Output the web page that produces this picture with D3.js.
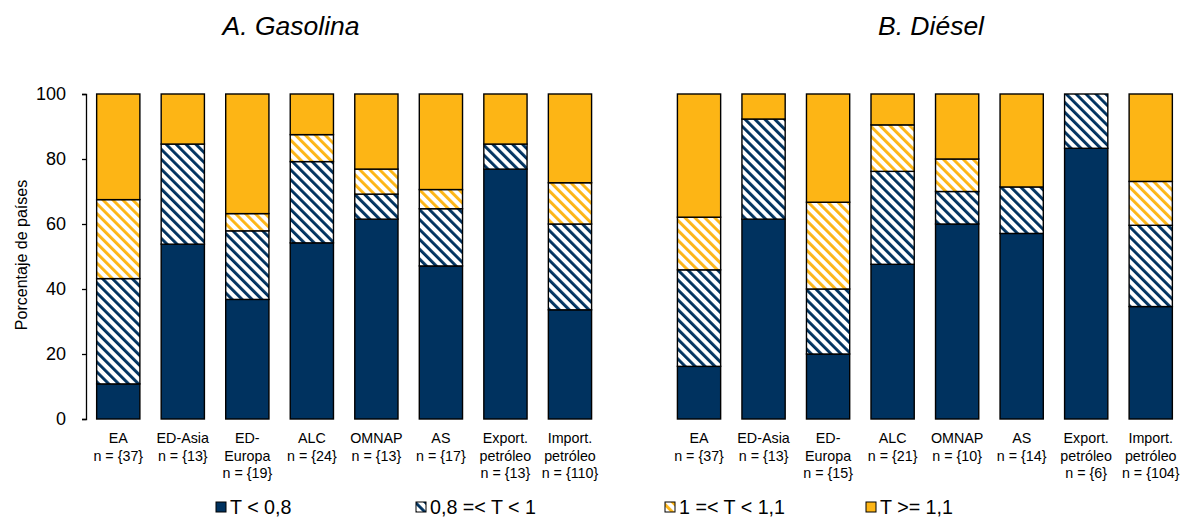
<!DOCTYPE html>
<html>
<head>
<meta charset="utf-8">
<script src="https://cdn.jsdelivr.net/npm/d3@7"></script>
<style>
  html,body{margin:0;padding:0;background:#fff;}
  svg{display:block;font-family:Arial,"Liberation Sans",sans-serif;}
</style>
</head>
<body>
<svg id="chart" width="1183" height="517"></svg>
<script>
// categories (one gap slot between the two panels)
const groups = ['EA','ED-Asia','ED-Europa','ALC','OMNAP','AS','Export.','Import.'];
const labelsA = [['EA','n = {37}'],['ED-Asia','n = {13}'],['ED-','Europa','n = {19}'],['ALC','n = {24}'],['OMNAP','n = {13}'],['AS','n = {17}'],['Export.','petróleo','n = {13}'],['Import.','petróleo','n = {110}']];
const labelsB = [['EA','n = {37}'],['ED-Asia','n = {13}'],['ED-','Europa','n = {15}'],['ALC','n = {21}'],['OMNAP','n = {10}'],['AS','n = {14}'],['Export.','petróleo','n = {6}'],['Import.','petróleo','n = {104}']];
const seriesNames = ['T < 0,8','0,8 =< T < 1','1 =< T < 1,1','T >= 1,1'];

// porcentaje de países por tramo (A. Gasolina)
const gasLow  = [10.8, 53.8, 36.8, 54.2, 61.5, 47.1, 76.9, 33.6];
const gasMid  = [32.4, 30.8, 21.1, 25.0,  7.7, 17.6,  7.7, 26.4];
const gasHigh = [24.3,  0.0,  5.3,  8.3,  7.7,  5.9,  0.0, 12.7];
const gasTop  = [32.5, 15.4, 36.8, 12.5, 23.1, 29.4, 15.4, 27.3];
// (B. Diésel)
const dieLow  = [16.2, 61.5, 20.0, 47.6, 60.0, 57.1, 83.3, 34.6];
const dieMid  = [29.7, 30.8, 20.0, 28.6, 10.0, 14.3, 16.7, 25.0];
const dieHigh = [16.2,  0.0, 26.7, 14.3, 10.0,  0.0,  0.0, 13.5];
const dieTop  = [37.9,  7.7, 33.3,  9.5, 20.0, 28.6,  0.0, 26.9];

const yTicks = [0,20,40,60,80,100];

const NAVY='#00325f', GOLD='#fdb515';

const rows=[];
groups.forEach((g,i)=>rows.push({key:'A'+i, lab:labelsA[i], v:[gasLow[i],gasMid[i],gasHigh[i],gasTop[i]]}));
const gapKey='gap';
groups.forEach((g,i)=>rows.push({key:'B'+i, lab:labelsB[i], v:[dieLow[i],dieMid[i],dieHigh[i],dieTop[i]]}));
const domain=[...rows.slice(0,8).map(r=>r.key), gapKey, ...rows.slice(8).map(r=>r.key)];

const svg=d3.select('#chart');
const x=d3.scaleBand().domain(domain).range([86,1183]).paddingInner(0.33).paddingOuter(0.165);
const y=d3.scaleLinear().domain([0,100]).range([419,94]);

// hatch patterns
const defs=svg.append('defs');
function hatch(id,color){
  const p=defs.append('pattern').attr('id',id).attr('patternUnits','userSpaceOnUse')
    .attr('width',7).attr('height',7).attr('patternTransform','rotate(-45)');
  p.append('rect').attr('width',7).attr('height',7).attr('fill','#fff');
  p.append('rect').attr('x',0).attr('width',2.9).attr('height',7).attr('fill',color);
}
hatch('hNavy',NAVY); hatch('hGold',GOLD);
const fills=[NAVY,'url(#hNavy)','url(#hGold)',GOLD];

// titles
svg.append('text').attr('x',291).attr('y',35).attr('text-anchor','middle')
  .attr('font-size',26.5).attr('font-style','italic').text('A. Gasolina');
svg.append('text').attr('x',931).attr('y',35).attr('text-anchor','middle')
  .attr('font-size',26.5).attr('font-style','italic').text('B. Diésel');

// y axis
const yAxis=svg.append('g').attr('transform','translate(86,0)')
  .call(d3.axisLeft(y).tickValues(yTicks).tickSize(4).tickPadding(16));
yAxis.select('.domain').attr('stroke','#000').attr('stroke-width',1.3).attr('d','M-4,94.5H0.5V419.5H-4');
yAxis.selectAll('.tick line').attr('stroke','#000').attr('stroke-width',1.3);
yAxis.selectAll('.tick text').attr('font-size',18).attr('fill','#000')
  .attr('font-family','Arial,"Liberation Sans",sans-serif');

svg.append('text').attr('transform','translate(27,255) rotate(-90)').attr('text-anchor','middle')
  .attr('font-size',16).text('Porcentaje de países');

// bars
const stack=d3.stack().keys([0,1,2,3]).value((d,k)=>d.v[k]);
const layers=stack(rows);
layers.forEach((layer,k)=>{
  svg.append('g').selectAll('rect').data(layer.filter(s=>s[1]-s[0]>0.01)).join('rect')
    .attr('x',s=>x(s.data.key)).attr('width',x.bandwidth())
    .attr('y',s=>y(s[1])).attr('height',s=>y(s[0])-y(s[1]))
    .attr('fill',fills[k]).attr('stroke','#000').attr('stroke-width',1.4);
});

// category labels
const lab=svg.append('g');
rows.forEach(r=>{
  const t=lab.append('text').attr('x',x(r.key)+x.bandwidth()/2).attr('y',443)
    .attr('text-anchor','middle').attr('font-size',14.3);
  r.lab.forEach((s,i)=>t.append('tspan').attr('x',x(r.key)+x.bandwidth()/2).attr('dy',i?17.6:0).text(s));
});

// legend
const legX=[216,416,665,866];
const leg=svg.append('g');
seriesNames.forEach((n,i)=>{
  leg.append('rect').attr('x',legX[i]).attr('y',502).attr('width',10).attr('height',10)
    .attr('fill',fills[i]).attr('stroke','#000').attr('stroke-width',1);
  leg.append('text').attr('x',legX[i]+14).attr('y',514).attr('font-size',19.7).text(n);
});
</script>
</body>
</html>
